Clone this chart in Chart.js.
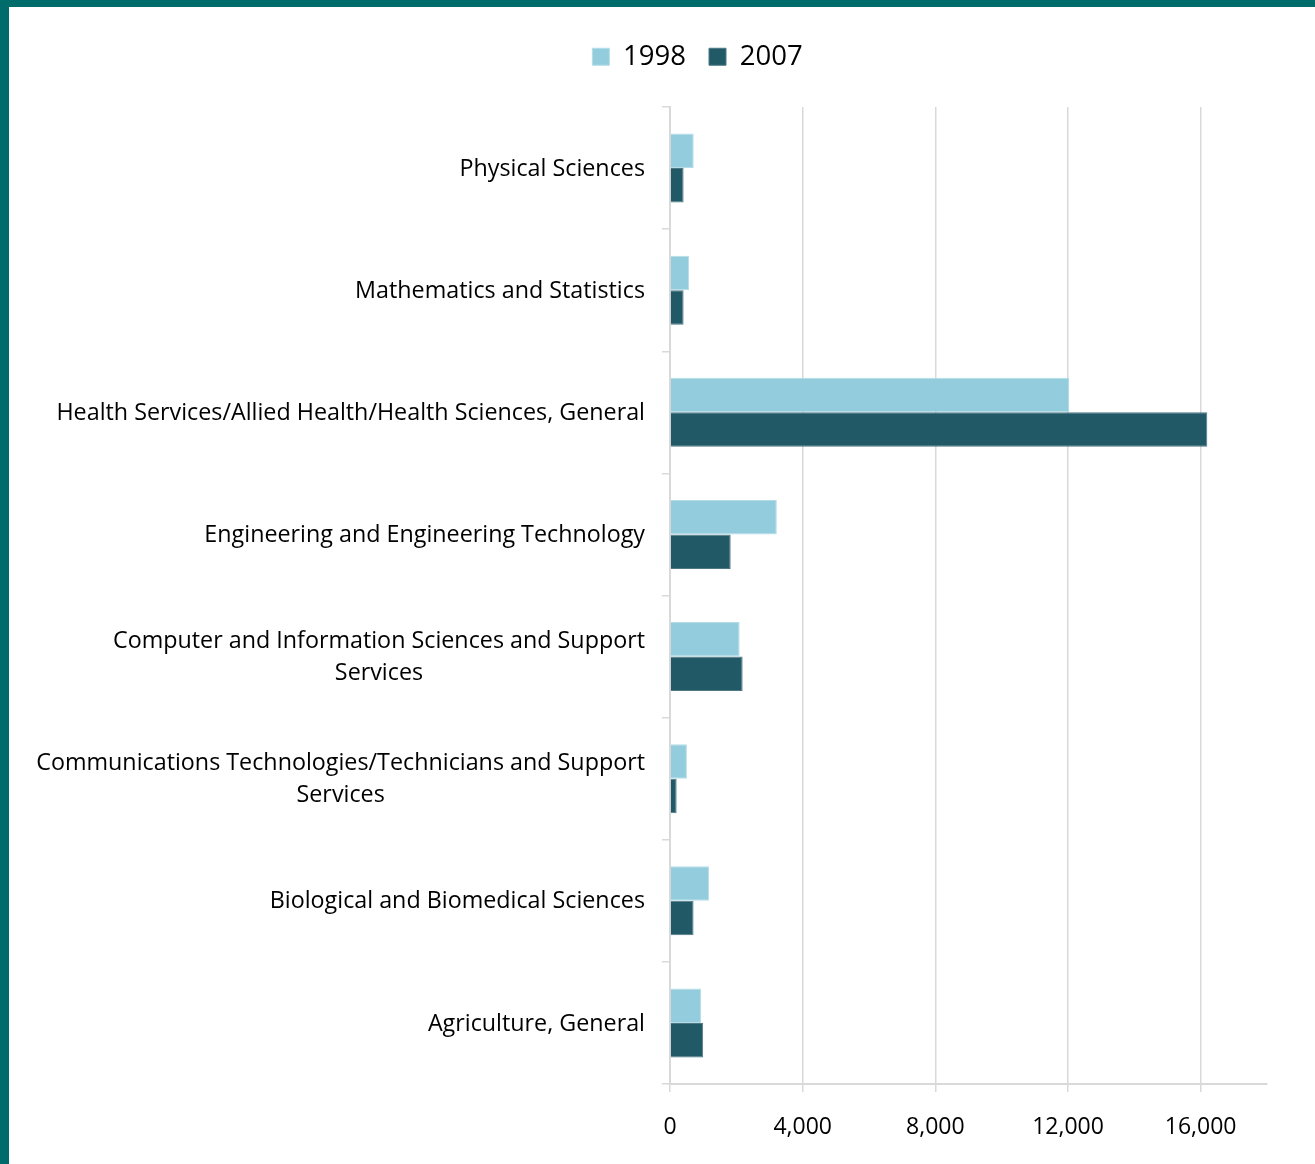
<!DOCTYPE html>
<html>
<head>
<meta charset="utf-8">
<script src="https://cdn.jsdelivr.net/npm/chart.js@4.4.1/dist/chart.umd.min.js"></script>
<style>
    html, body { margin: 0; padding: 0; background: #fff; }
    .frame {
        position: absolute; left: 0; top: 0;
        width: 1315px; height: 1164px;
        box-sizing: border-box;
        border-top: 7px solid #006b6b;
        border-left: 9px solid #006b6b;
        background: #fff;
    }
    .frame canvas { display: block; }
</style>
</head>
<body>
<div class="frame">
    <canvas id="fieldChart" width="1306" height="1157"></canvas>
</div>
<script>
/* ----- Data ----- */
const categories = [
    ['Physical Sciences'],
    ['Mathematics and Statistics'],
    ['Health Services/Allied Health/Health Sciences, General'],
    ['Engineering and Engineering Technology'],
    ['Computer and Information Sciences and Support', 'Services'],
    ['Communications Technologies/Technicians and Support', 'Services'],
    ['Biological and Biomedical Sciences'],
    ['Agriculture, General']
];
const seriesNames = ['1998', '2007'];
const values1998 = [715, 580, 12040, 3220, 2100, 510, 1180, 940];
const values2007 = [410, 410, 16200, 1830, 2190, 200, 710, 1000];
const xTicks = [0, 4000, 8000, 12000, 16000];

const FONT = 'Open Sans';
const LABEL_FONT = '23.3px "Open Sans"';

/* ----- Category labels: right-aligned block, lines centred ----- */
const categoryLabels = {
    id: 'categoryLabels',
    afterDraw(chart) {
        const { ctx, chartArea } = chart;
        const scale = chart.scales.y;
        const right = chartArea.left - 25;
        const lineGap = 32;
        ctx.save();
        ctx.font = LABEL_FONT;
        ctx.fillStyle = '#000';
        ctx.textAlign = 'center';
        ctx.textBaseline = 'middle';
        categories.forEach((lines, i) => {
            const yMid = scale.getPixelForTick(i) + 1;
            const widest = Math.max(...lines.map(l => ctx.measureText(l).width));
            const cx = right - widest / 2;
            const y0 = yMid - (lines.length - 1) * lineGap / 2;
            lines.forEach((line, j) => ctx.fillText(line, cx, y0 + j * lineGap));
        });
        ctx.restore();
    }
};

new Chart(document.getElementById('fieldChart'), {
    type: 'bar',
    data: {
        labels: categories,
        datasets: [
            {
                label: seriesNames[0],
                data: values1998,
                backgroundColor: '#93cddd',
                borderColor: '#b4dde8',
                borderWidth: 1
            },
            {
                label: seriesNames[1],
                data: values2007,
                backgroundColor: '#215967',
                borderColor: '#4d7884',
                borderWidth: 1
            }
        ]
    },
    options: {
        indexAxis: 'y',
        responsive: false,
        animation: false,
        barPercentage: 1,
        categoryPercentage: 0.565,
        layout: { padding: { left: 119, right: 48, top: 13, bottom: 0 } },
        plugins: {
            legend: {
                position: 'top',
                labels: {
                    color: '#000',
                    font: { family: FONT, size: 27.5 },
                    boxWidth: 17,
                    boxHeight: 17,
                    padding: 23
                }
            },
            tooltip: { enabled: false }
        },
        scales: {
            x: {
                min: 0,
                max: 18000,
                afterBuildTicks: (scale) => {
                    scale.ticks = xTicks.map(v => ({ value: v }));
                },
                afterFit: (scale) => { scale.height = 80; },
                ticks: {
                    color: '#000',
                    font: { family: FONT, size: 23 },
                    padding: 22,
                    maxRotation: 0
                },
                grid: {
                    color: '#d9d9d9',
                    lineWidth: 1.5,
                    tickLength: 8
                },
                border: { color: '#d9d9d9', width: 2 }
            },
            // empty spacer between legend and plot
            xTop: {
                position: 'top',
                axis: 'x',
                display: true,
                afterFit: (scale) => { scale.height = 26.5; },
                ticks: { display: false },
                grid: { display: false },
                border: { display: false }
            },
            y: {
                afterFit: (scale) => { scale.width = 542; },
                ticks: { display: false },
                grid: {
                    offset: true,
                    drawOnChartArea: false,
                    color: '#d9d9d9',
                    lineWidth: 1.5,
                    tickLength: 8
                },
                border: { color: '#d9d9d9', width: 2 }
            }
        }
    },
    plugins: [categoryLabels]
});
</script>
</body>
</html>
